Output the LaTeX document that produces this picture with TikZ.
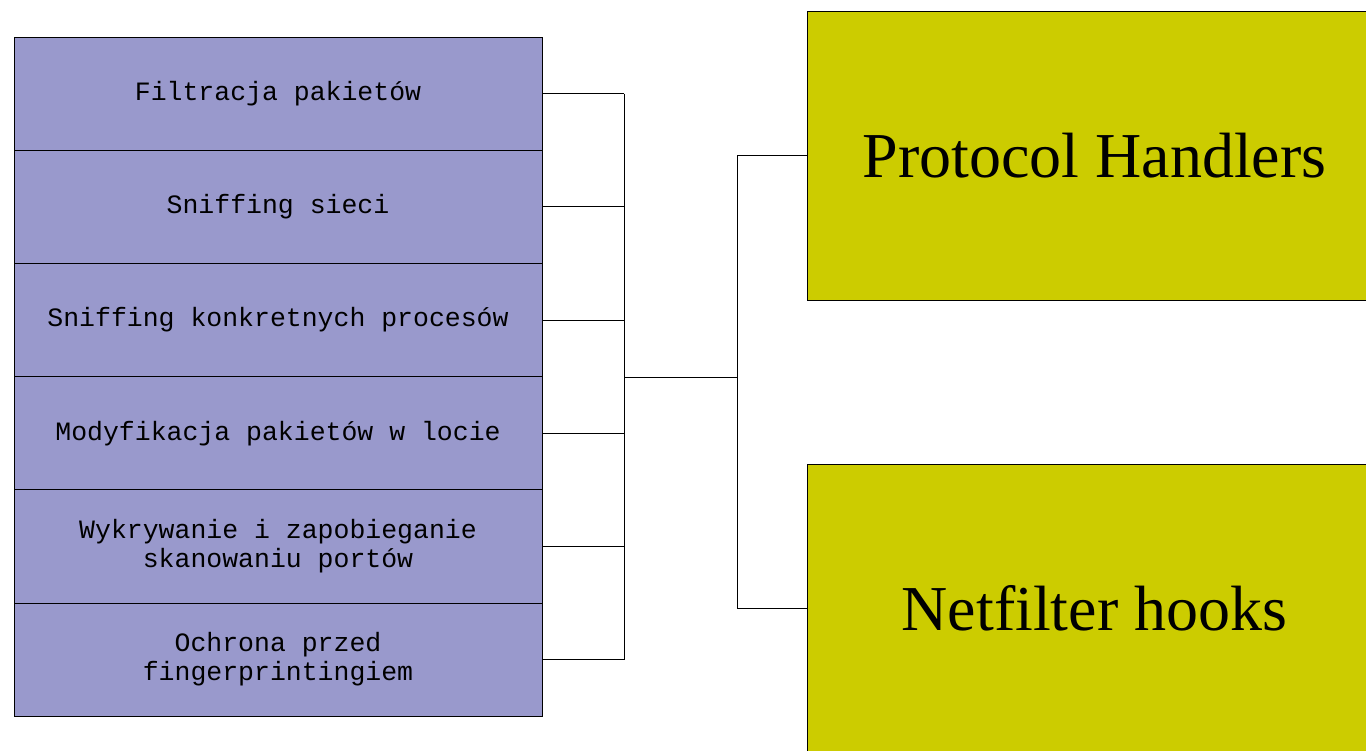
\documentclass[tikz,border=0pt]{standalone}
\usepackage{fontspec}
\setmainfont{Liberation Serif}
\setmonofont{Liberation Mono}
\usetikzlibrary{positioning}

\definecolor{featfill}{HTML}{9999CC}
\definecolor{corefill}{HTML}{CCCC00}

\begin{document}
\begin{tikzpicture}[
  x=1pt,y=-1pt,
  node distance=0pt,
  feat/.style={draw,line width=1pt,fill=featfill,align=center,
               font=\fontsize{26.5}{29}\ttfamily,inner sep=0pt,outer sep=0pt,
               minimum width=528pt,minimum height=113.2pt,anchor=north west},
  core/.style={draw,line width=1pt,fill=corefill,align=center,
               font=\fontsize{64}{70}\rmfamily,inner sep=0pt,outer sep=0pt,
               minimum width=575pt,minimum height=289pt,anchor=north west},
  link/.style={line width=1pt}
]
  \useasboundingbox (0,0) rectangle (1366,750);

  % feature stack
  \node[feat] (filtr) at (14,37) {Filtracja pakietów};
  \node[feat,below=of filtr.south west,anchor=north west] (sniff) {Sniffing sieci};
  \node[feat,below=of sniff.south west,anchor=north west] (sproc) {Sniffing konkretnych procesów};
  \node[feat,below=of sproc.south west,anchor=north west] (modyf) {Modyfikacja pakietów w locie};
  \node[feat,below=of modyf.south west,anchor=north west] (wykr) {Wykrywanie i zapobieganie\\skanowaniu portów};
  \node[feat,below=of wykr.south west,anchor=north west] (ochr) {Ochrona przed\\fingerprintingiem};

  % kernel parts
  \node[core] (proto) at (807,11) {Protocol Handlers};
  \node[core] (netf) at (807,464) {Netfilter hooks};

  \coordinate (busL) at (624,377);
  \coordinate (busR) at (737,377);

  \foreach \n in {filtr,sniff,sproc,modyf,wykr,ochr}
    \draw[link] (\n.east) -- (\n.east -| busL);
  \draw[link] (filtr.east -| busL) -- (ochr.east -| busL);
  \draw[link] (busL) -- (busR);
  \draw[link] (proto.west) -- (proto.west -| busR) -- (netf.west -| busR) -- (netf.west);
\end{tikzpicture}
\end{document}
